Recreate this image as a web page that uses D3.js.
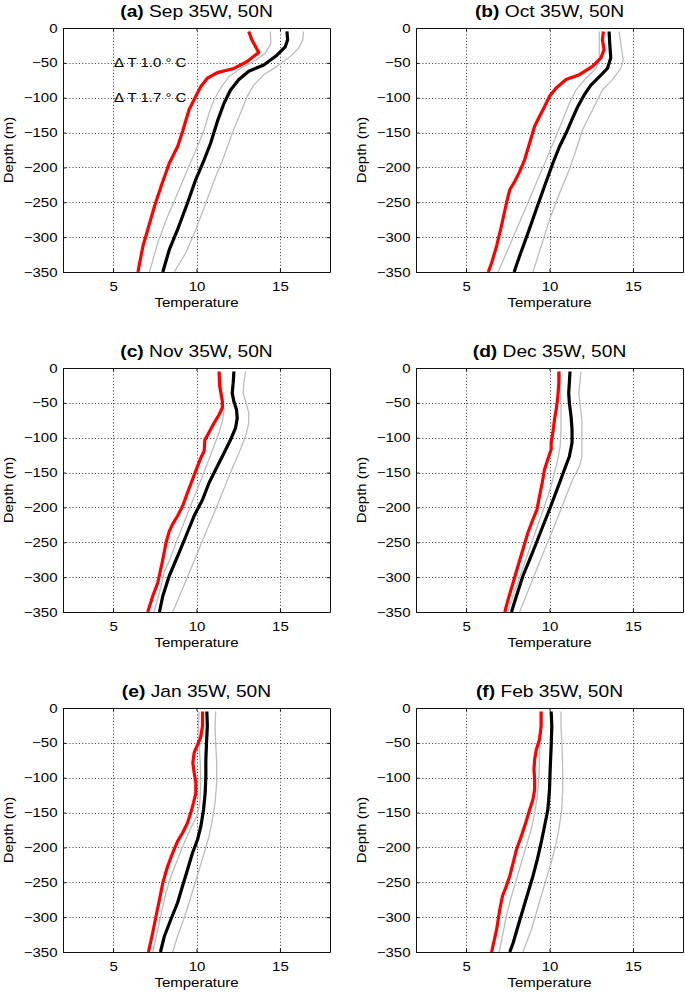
<!DOCTYPE html>
<html>
<head>
<meta charset="utf-8">
<script src="https://cdn.jsdelivr.net/npm/d3@7"></script>
<style>
  html, body { margin: 0; padding: 0; background: #fff; }
  svg { display: block; }
  text { font-family: "Liberation Sans", Arial, Helvetica, sans-serif; fill: #000; }
</style>
</head>
<body>
<div id="chart"></div>
<script>
// ---------------- DATA ----------------
// Each series: [temperature (°C), depth (m)]
const panelLetters = ["(a)", "(b)", "(c)", "(d)", "(e)", "(f)"];
const panelTitles = ["Sep 35W, 50N", "Oct 35W, 50N", "Nov 35W, 50N", "Dec 35W, 50N", "Jan 35W, 50N", "Feb 35W, 50N"];
const xTicks = [5, 10, 15];
const yTicks = [0, -50, -100, -150, -200, -250, -300, -350];
const xLabel = "Temperature";
const yLabel = "Depth (m)";
const annotations = [
  { panel: 0, t: 5, depth: 50, label: "\u0394 T 1.0 \u00b0 C" },
  { panel: 0, t: 5, depth: 100, label: "\u0394 T 1.7 \u00b0 C" }
];

const sepRed   = [[13.13,5],[13.3,16],[13.73,35],[13.04,48],[12.24,58],[11.25,64],[10.65,72],[10.26,84],[9.96,98],[9.56,117],[9.37,132],[9.17,148],[8.87,170],[8.37,194],[7.88,227],[7.48,256],[7.08,289],[6.79,313],[6.49,350]];
const sepBlack = [[15.42,5],[15.46,17],[15.32,27],[14.82,39],[14.03,53],[13.13,62],[12.54,74],[12.04,89],[11.65,108],[11.25,134],[10.85,165],[10.46,189],[9.96,217],[9.46,251],[8.87,289],[8.37,318],[7.98,350]];
const sepLo    = [[14.42,5],[14.46,22],[14.13,36],[13.43,48],[12.64,58],[11.94,70],[11.45,86],[11.05,103],[10.75,122],[10.46,146],[10.06,170],[9.46,203],[8.87,237],[8.27,270],[7.68,308],[7.18,350]];
const sepHi    = [[16.41,5],[16.37,17],[16.11,29],[15.62,41],[14.82,55],[14.03,67],[13.43,82],[13.04,98],[12.64,122],[12.14,151],[11.65,184],[11.15,213],[10.56,251],[9.96,289],[9.37,322],[8.67,350]];

const octRed   = [[13.23,5],[13.17,17],[13.27,31],[13.08,43],[12.58,55],[11.79,67],[10.99,74],[10.40,86],[10.0,98],[9.70,113],[9.40,127],[9.11,141],[8.81,165],[8.51,189],[8.21,206],[7.92,220],[7.62,232],[7.42,251],[7.12,284],[6.83,313],[6.53,337],[6.33,350]];
const octBlack = [[13.57,5],[13.61,22],[13.67,43],[13.47,58],[12.98,70],[12.48,82],[12.08,96],[11.69,113],[11.39,129],[10.99,151],[10.60,170],[10.20,194],[9.70,227],[9.21,260],[8.71,294],[8.21,327],[7.88,350]];
const octLo    = [[12.98,5],[12.98,27],[12.98,46],[12.78,58],[12.18,72],[11.59,89],[11.19,108],[10.79,132],[10.40,155],[9.80,189],[9.21,222],[8.61,256],[8.02,289],[7.50,318],[6.92,350]];
const octHi    = [[14.17,5],[14.27,22],[14.42,46],[14.27,58],[13.77,74],[13.17,89],[12.78,108],[12.38,127],[11.98,146],[11.59,175],[11.19,203],[10.60,237],[10.0,275],[9.50,313],[9.01,350]];

const novRed   = [[11.35,5],[11.39,26],[11.55,48],[11.55,57],[11.35,67],[11.05,79],[10.85,88],[10.65,97],[10.50,103],[10.46,119],[10.26,129],[10.06,141],[9.76,160],[9.46,179],[9.17,198],[8.87,212],[8.57,224],[8.37,234],[8.17,251],[7.98,275],[7.68,308],[7.38,327],[7.08,350]];
const novBlack = [[12.24,5],[12.20,21],[12.14,36],[12.24,48],[12.40,60],[12.44,72],[12.34,86],[12.04,103],[11.65,122],[11.25,141],[10.75,165],[10.36,189],[9.86,212],[9.37,241],[8.87,270],[8.37,298],[7.98,327],[7.78,350]];
const novLo    = [[11.45,5],[11.49,26],[11.59,48],[11.65,62],[11.55,76],[11.35,93],[11.05,112],[10.75,131],[10.36,155],[9.96,179],[9.56,203],[9.17,227],[8.77,251],[8.40,275],[8.10,290],[7.80,320],[7.45,350]];
const novHi    = [[12.94,5],[12.84,21],[12.80,36],[12.94,48],[13.13,64],[13.13,79],[12.94,98],[12.54,122],[12.04,150],[11.55,179],[11.05,208],[10.56,236],[10.06,265],[9.56,294],[9.07,322],[8.57,350]];

const decRed   = [[10.56,5],[10.56,21],[10.50,41],[10.40,60],[10.30,74],[10.20,93],[10.10,107],[10.10,117],[9.90,131],[9.70,146],[9.56,165],[9.40,184],[9.25,203],[9.01,217],[8.71,236],[8.41,260],[8.11,284],[7.82,308],[7.52,332],[7.32,350]];
const decBlack = [[11.23,5],[11.19,21],[11.15,36],[11.19,50],[11.29,69],[11.35,88],[11.35,107],[11.19,127],[10.89,146],[10.60,165],[10.30,184],[10.0,203],[9.60,227],[9.21,251],[8.81,275],[8.41,298],[8.02,327],[7.72,350]];
const decLo    = [[10.64,5],[10.64,26],[10.69,55],[10.69,88],[10.64,112],[10.50,131],[10.30,150],[10.04,174],[9.70,198],[9.35,222],[9.0,246],[8.65,270],[8.30,294],[7.95,318],[7.50,350]];
const decHi    = [[11.88,5],[11.82,21],[11.75,36],[11.82,50],[11.94,74],[11.94,98],[11.94,127],[11.79,141],[11.39,160],[10.99,184],[10.60,208],[10.20,232],[9.80,255],[9.40,279],[8.91,308],[8.51,332],[8.21,350]];

const janRed   = [[10.36,5],[10.36,26],[10.26,41],[10.06,53],[9.86,64],[9.78,79],[9.86,93],[9.96,107],[9.96,122],[9.82,136],[9.66,150],[9.46,165],[9.17,179],[8.87,191],[8.57,208],[8.27,227],[7.98,251],[7.78,275],[7.58,298],[7.38,322],[7.12,350]];
const janBlack = [[10.62,5],[10.65,26],[10.60,50],[10.56,74],[10.56,98],[10.52,122],[10.42,146],[10.26,170],[10.06,189],[9.76,208],[9.46,232],[9.17,255],[8.87,279],[8.47,303],[8.08,327],[7.84,350]];
const janLo    = [[10.16,5],[10.12,26],[10.16,50],[10.22,79],[10.26,107],[10.20,136],[10.02,155],[9.66,172],[9.27,193],[8.87,217],[8.47,241],[8.17,265],[7.94,289],[7.68,318],[7.38,350]];
const janHi    = [[11.15,5],[11.11,26],[11.15,50],[11.21,79],[11.21,107],[11.11,136],[10.95,160],[10.75,184],[10.46,208],[10.16,232],[9.86,255],[9.56,279],[9.23,303],[8.87,327],[8.57,350]];

const febRed   = [[9.50,5],[9.50,26],[9.40,45],[9.21,60],[9.11,74],[9.07,88],[9.11,103],[9.11,117],[9.01,131],[8.81,146],[8.57,165],[8.31,184],[8.02,203],[7.82,222],[7.62,241],[7.42,255],[7.18,270],[7.02,289],[6.83,318],[6.53,350]];
const febBlack = [[10.10,5],[10.14,26],[10.10,55],[10.04,88],[10.0,117],[9.90,146],[9.70,170],[9.50,193],[9.27,217],[9.01,241],[8.71,265],[8.41,289],[8.11,313],[7.82,337],[7.62,350]];
const febLo    = [[9.44,5],[9.44,41],[9.40,69],[9.37,98],[9.27,127],[9.11,150],[8.91,174],[8.61,198],[8.31,222],[8.02,246],[7.72,270],[7.42,298],[7.18,327],[6.98,350]];
const febHi    = [[10.69,5],[10.69,26],[10.75,55],[10.79,88],[10.79,117],[10.73,146],[10.56,174],[10.36,198],[10.10,222],[9.80,246],[9.50,270],[9.21,294],[8.91,318],[8.61,337],[8.41,350]];

const panelSeries = [
  { red: sepRed, black: sepBlack, lo: sepLo, hi: sepHi },
  { red: octRed, black: octBlack, lo: octLo, hi: octHi },
  { red: novRed, black: novBlack, lo: novLo, hi: novHi },
  { red: decRed, black: decBlack, lo: decLo, hi: decHi },
  { red: janRed, black: janBlack, lo: janLo, hi: janHi },
  { red: febRed, black: febBlack, lo: febLo, hi: febHi }
];

// ---------------- LAYOUT ----------------
const W = 685, H = 993;
const colX = [63, 416];
const rowY = [28, 368, 708];
const pw = 267, ph = 244;
const SX = 1.2;           // horizontal text widening of the original rendering
const tickFont = 12.5, titleFont = 16;
const FONT = '"Liberation Sans", Arial, Helvetica, sans-serif';

const svg = d3.select("#chart").append("svg")
  .attr("width", W).attr("height", H)
  .attr("viewBox", `0 0 ${W} ${H}`);
svg.append("rect").attr("width", W).attr("height", H).attr("fill", "#fff");

panelSeries.forEach((ser, i) => {
  const x0 = colX[i % 2], y0 = rowY[Math.floor(i / 2)];
  const x = d3.scaleLinear().domain([2, 18]).range([x0, x0 + pw]);
  const y = d3.scaleLinear().domain([0, -350]).range([y0, y0 + ph]);
  const g = svg.append("g");

  // grid (dotted)
  const grid = g.append("g").attr("stroke", "#000").attr("stroke-width", 0.8)
    .attr("stroke-dasharray", "1,2.2").attr("fill", "none");
  grid.selectAll("line.gx").data(xTicks).join("line").attr("class", "gx")
    .attr("x1", d => Math.round(x(d)) + 0.5).attr("x2", d => Math.round(x(d)) + 0.5)
    .attr("y1", y(0)).attr("y2", y(-350));
  grid.selectAll("line.gy").data(yTicks.filter(d => d !== 0 && d !== -350)).join("line").attr("class", "gy")
    .attr("y1", d => Math.round(y(d)) + 0.5).attr("y2", d => Math.round(y(d)) + 0.5)
    .attr("x1", x(2)).attr("x2", x(18));

  // lines
  const line = d3.line().x(d => x(d[0])).y(d => y(-d[1]));
  const lines = [
    { data: ser.lo, color: "#bdbdbd", w: 1.3 },
    { data: ser.hi, color: "#bdbdbd", w: 1.3 },
    { data: ser.black, color: "#000000", w: 3.2 },
    { data: ser.red, color: "#ff0000", w: 3.2 }
  ];
  g.selectAll("path.series").data(lines).join("path").attr("class", "series")
    .attr("d", d => line(d.data))
    .attr("fill", "none").attr("stroke", d => d.color).attr("stroke-width", d => d.w)
    .attr("stroke-linejoin", "round").attr("stroke-linecap", "butt");

  // axes
  const fmtY = d => d === 0 ? "0" : "\u2212" + Math.abs(d);
  const ax = (gen, tx, ty) => {
    const a = g.append("g").attr("transform", `translate(${tx},${ty})`).call(gen);
    a.attr("font-family", FONT).attr("font-size", tickFont);
    a.selectAll(".domain").attr("stroke", "#111").attr("stroke-width", 1);
    a.selectAll(".tick line").attr("stroke", "#111").attr("stroke-width", 1);
    return a;
  };
  const left = ax(d3.axisLeft(y).tickValues(yTicks).tickSizeInner(-3).tickSizeOuter(0).tickPadding(5.5).tickFormat(fmtY), x0, 0);
  left.selectAll("text").attr("fill", "#000").attr("x", -5.5 / SX).attr("transform", `scale(${SX},1)`);
  const bottom = ax(d3.axisBottom(x).tickValues(xTicks).tickSizeInner(-3).tickSizeOuter(0).tickPadding(10.5), 0, y0 + ph);
  bottom.selectAll("text").attr("fill", "#000")
    .attr("transform", function() {
      const t = d3.select(this.parentNode).attr("transform");
      return `scale(${SX},1)`;
    })
    .attr("x", 0);
  const top = ax(d3.axisTop(x).tickValues(xTicks).tickSizeInner(-3).tickSizeOuter(0).tickFormat(""), 0, y0);
  const right = ax(d3.axisRight(y).tickValues(yTicks).tickSizeInner(-3).tickSizeOuter(0).tickFormat(""), x0 + pw, 0);

  // title
  const title = g.append("text")
    .attr("transform", `translate(${x0 + pw / 2},${y0 - 11}) scale(${SX},1)`)
    .attr("text-anchor", "middle").attr("font-size", titleFont);
  title.append("tspan").attr("font-weight", "bold").text(panelLetters[i]);
  title.append("tspan").text(" " + panelTitles[i]);

  // x label
  g.append("text")
    .attr("transform", `translate(${x0 + pw / 2},${y0 + ph + 35}) scale(${SX},1)`)
    .attr("text-anchor", "middle").attr("font-size", tickFont).text(xLabel);

  // y label
  g.append("text")
    .attr("transform", `translate(${x0 - 50},${y0 + ph / 2}) rotate(-90) scale(${SX},1)`)
    .attr("text-anchor", "middle").attr("font-size", tickFont).text(yLabel);

  // annotations
  annotations.filter(a => a.panel === i).forEach(a => {
    g.append("text")
      .attr("transform", `translate(${x(a.t) + 1},${y(-a.depth)}) scale(${SX},1)`)
      .attr("dy", "0.35em").attr("font-size", tickFont).text(a.label);
  });
});
</script>
</body>
</html>
